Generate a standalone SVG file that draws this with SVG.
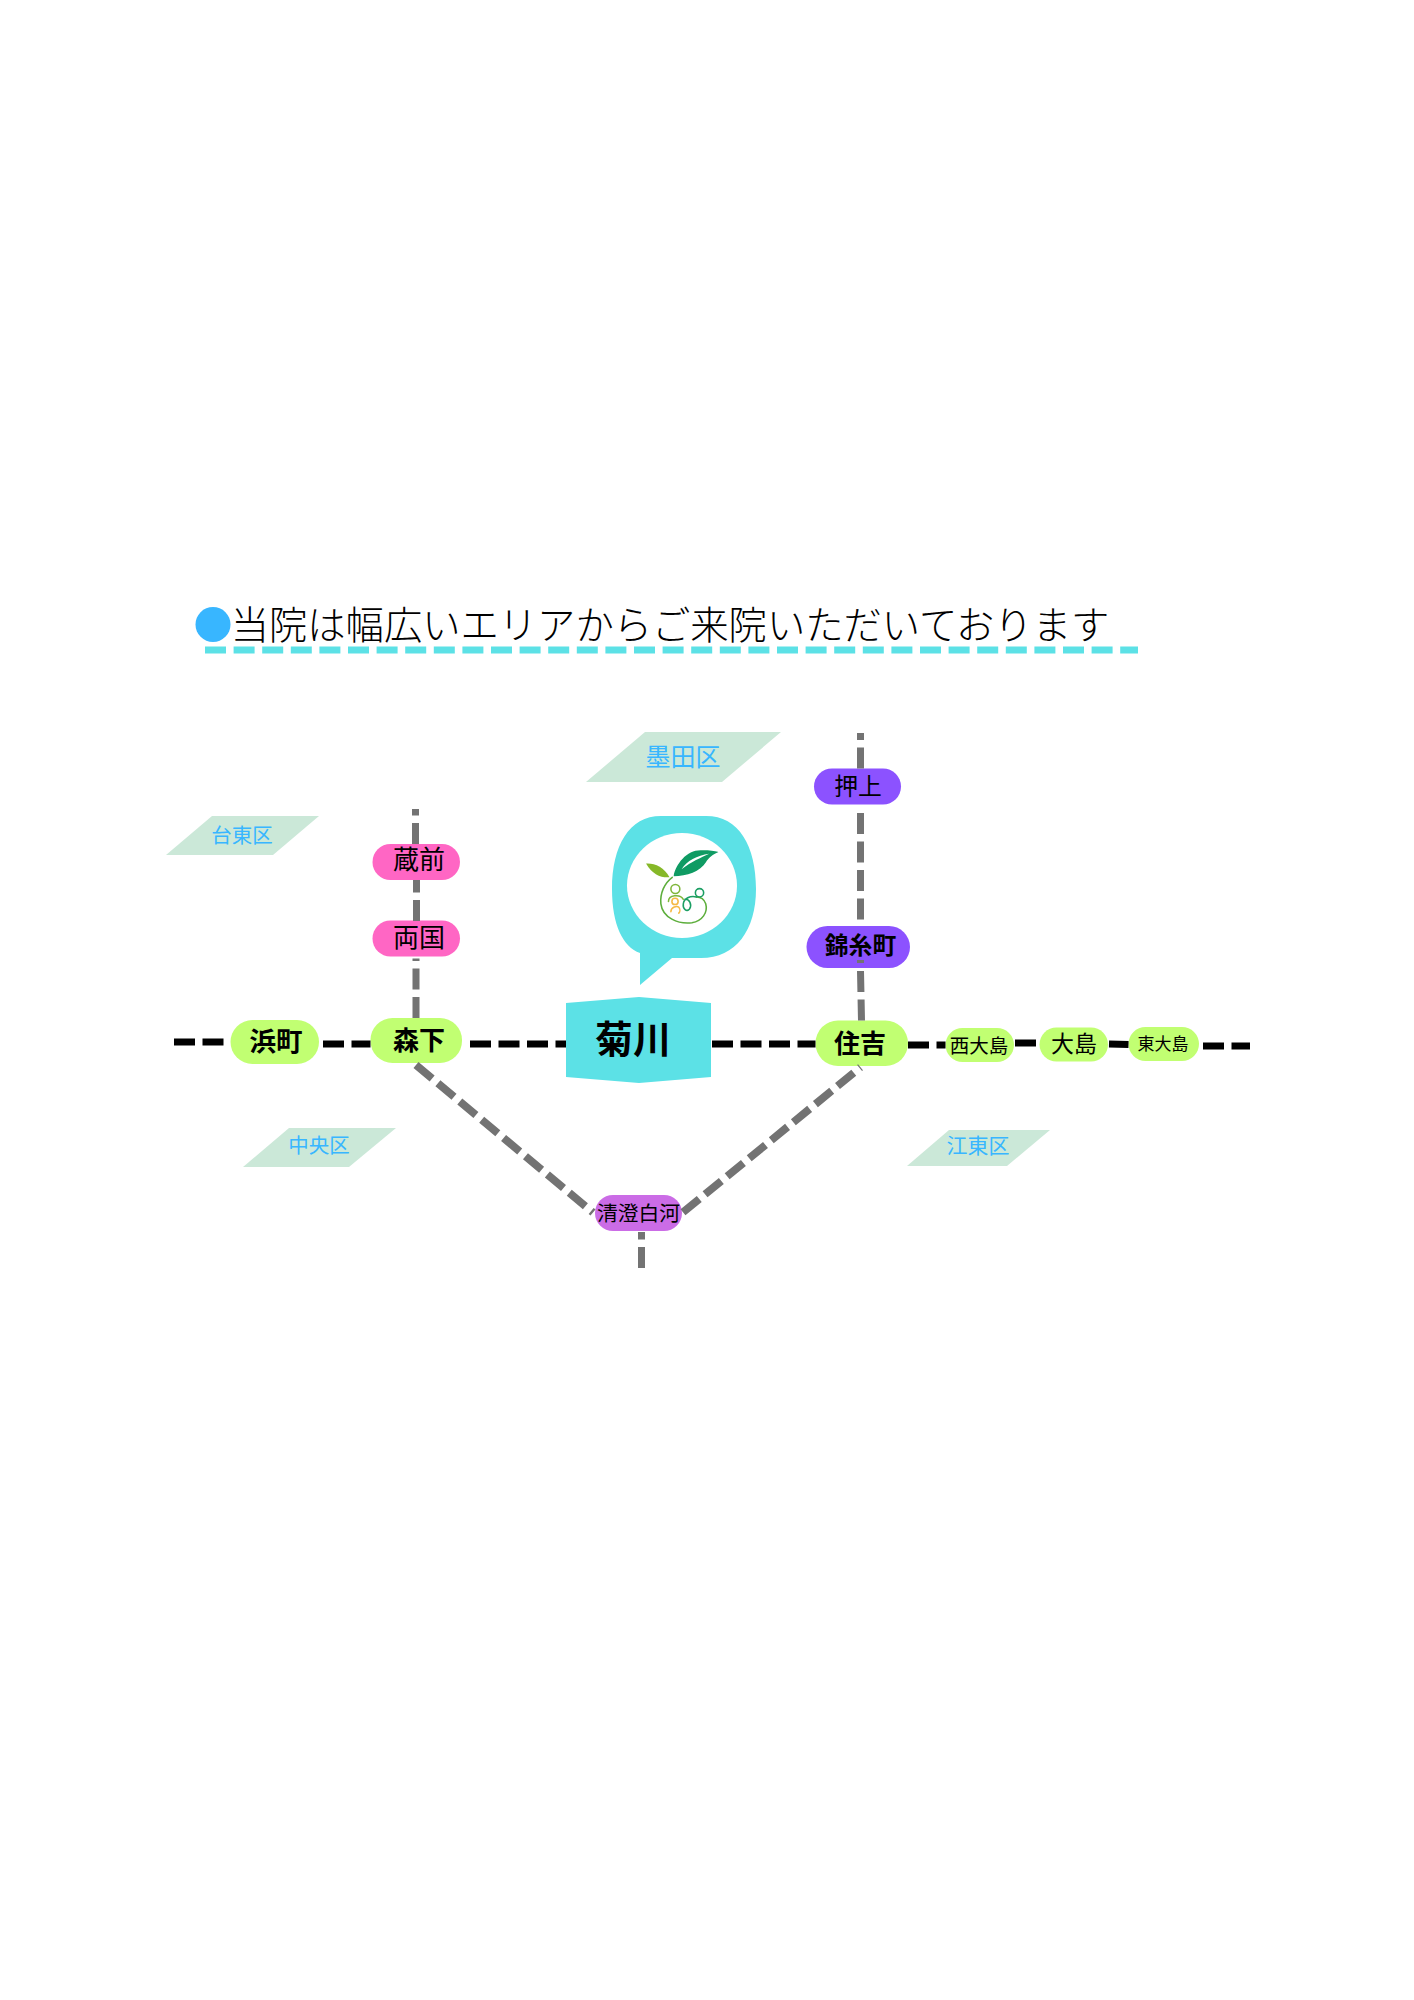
<svg xmlns="http://www.w3.org/2000/svg" width="1414" height="2000" viewBox="0 0 1414 2000">
<style>
text{font-family:"Noto Sans CJK JP","Noto Sans CJK SC",sans-serif;text-anchor:middle;fill:#000}
.b{font-weight:700}
.t{font-weight:300}
.w{fill:#38b6ff}
.area{fill:#cbe8d8}
.g{fill:#c1ff72}
.p{fill:#ff66c4}
.v{fill:#8c52ff}
.m{fill:#cb6ce6}
.k,.y{fill:none;stroke-width:7;stroke-dasharray:21 7.5}
.k{stroke:#000}
.y{stroke:#737373}
.d{stroke-width:7.800}
.l{fill:none;stroke-width:4.500;stroke-linecap:round}
</style>
<rect width="1414" height="2000" fill="#fff"/>
<g id="title">
<ellipse cx="213" cy="624.500" rx="17.500" ry="17.500" fill="#38b6ff"/>
<text class="t" x="670" y="638.500" font-size="38.300">当院は幅広いエリアからご来院いただいております</text>
<line x1="205" y1="650" x2="1138" y2="650" fill="none" stroke="#5ce1e6" stroke-width="7" stroke-dasharray="21 7.600"/>
</g>
<g id="area-sumida"><polygon class="area" points="645,732 781,732 722,782 586,782"/><text class="w" x="683" y="766" font-size="25">墨田区</text></g>
<g id="area-taito"><polygon class="area" points="212,816 319,816 273,855 166,855"/><text class="w" x="242" y="842.500" font-size="20.500">台東区</text></g>
<g id="area-chuo"><polygon class="area" points="289,1128 396,1128 349,1167 243,1167"/><text class="w" x="319" y="1153" font-size="20.500">中央区</text></g>
<g id="area-koto"><polygon class="area" points="949,1130 1050,1130 1007,1166 907,1166"/><text class="w" x="978" y="1153" font-size="21">江東区</text></g>
<g id="clinic-logo">
<path d="M661,816H706C739,816 756,846 756,889C756,930 736,958 701,958H672L640,985V953C623,947 612,925 612,889C612,846 629,816 661,816Z" fill="#5ce1e6"/>
<ellipse cx="682" cy="885.500" rx="55" ry="52.500" fill="#fff"/>
<g transform="translate(635,840) scale(.3450)">
<path d="M112,105C118,70 150,30 190,30C215,28 235,32 242,35C225,42 215,50 205,65C190,90 150,105 112,105Z" fill="#0f9b63"/>
<path d="M135,85C150,60 180,45 215,40C190,52 165,62 135,85Z" fill="#fff"/>
<path d="M32,68C55,66 85,78 100,108C75,110 50,100 32,68Z" fill="#86b828"/>
<path class="l" d="M108,108C85,125 72,155 75,185C80,225 125,245 165,240C195,235 212,210 205,185C200,170 190,165 178,165" stroke="#5dae3c"/>
<path class="l" d="M178,165C160,160 142,170 140,185C138,200 150,210 158,200C166,188 158,170 145,172" stroke="#1b9e63"/>
<circle class="l" cx="187" cy="153" r="12" stroke="#1b9e63"/>
<circle class="l" cx="117" cy="142" r="13" stroke="#7fb63a"/>
<path class="l" d="M97,178C97,160 130,155 140,172" stroke="#7fb63a"/>
<circle class="l" cx="116" cy="178" r="9" stroke="#f5b945"/>
<path class="l" d="M104,208C104,194 122,190 127,195C131,200 131,208 127,212" stroke="#f5b945"/>
</g>
</g>
<g id="st-kikukawa"><polygon points="566,1003 639,997 711,1003 711,1077 639,1083 566,1077" fill="#5ce1e6"/><text class="b" x="633" y="1053" font-size="38">菊川</text></g>
<g id="st-hamacho"><rect class="g" x="230.500" y="1020" width="88.500" height="44" rx="22"/><text class="b" x="276" y="1051" font-size="26.500">浜町</text></g>
<g id="st-morishita"><rect class="g" x="370.500" y="1018" width="91.500" height="45" rx="22"/><text class="b" x="419" y="1050" font-size="26">森下</text></g>
<g id="st-kuramae"><rect class="p" x="372.500" y="844" width="87.500" height="36" rx="18"/><text x="419" y="869" font-size="26">蔵前</text></g>
<g id="st-ryogoku"><rect class="p" x="372.500" y="920.500" width="87.500" height="36" rx="18"/><text x="419" y="946.500" font-size="26">両国</text></g>
<g id="st-oshiage"><rect class="v" x="814" y="768.500" width="87" height="36" rx="18"/><text x="858" y="795" font-size="23.800">押上</text></g>
<g id="st-kinshicho"><rect class="v" x="806.500" y="926" width="103.500" height="42" rx="21"/><text class="b" x="860.500" y="954" font-size="23.800">錦糸町</text></g>
<g id="st-sumiyoshi"><rect class="g" x="815.500" y="1020.500" width="92.500" height="45.500" rx="22.500"/><text class="b" x="860" y="1053" font-size="26">住吉</text></g>
<g id="st-nishiojima"><rect class="g" x="945.500" y="1028" width="68.500" height="34" rx="17"/><text x="979" y="1053" font-size="19.500">西大島</text></g>
<g id="st-ojima"><rect class="g" x="1039.500" y="1027.500" width="68.500" height="34" rx="17"/><text x="1074" y="1052" font-size="23">大島</text></g>
<g id="st-higashiojima"><rect class="g" x="1128.500" y="1027" width="70.500" height="34" rx="17"/><text x="1163" y="1050" font-size="17">東大島</text></g>
<g id="st-kiyosumi"><rect class="m" x="595" y="1195" width="87" height="36" rx="18"/><text x="638.500" y="1221" font-size="20.800">清澄白河</text></g>
<g id="connectors">
<line class="k" x1="174" y1="1042" x2="230.500" y2="1042"/>
<line class="k" x1="323" y1="1044" x2="370.500" y2="1044"/>
<line class="k" x1="470" y1="1044" x2="566" y2="1044"/>
<line class="k" x1="712" y1="1044" x2="815.500" y2="1044"/>
<line class="k" x1="908" y1="1045" x2="945.500" y2="1045"/>
<line class="k" x1="1015" y1="1043" x2="1039.500" y2="1043"/>
<line class="k" x1="1109" y1="1044" x2="1128.500" y2="1044.500"/>
<line class="k" x1="1203" y1="1046" x2="1250" y2="1046"/>
<line class="y" x1="415.500" y1="844" x2="415.500" y2="809"/>
<line class="y" x1="416.500" y1="921" x2="416.500" y2="880"/>
<line class="y" x1="416" y1="1018" x2="416" y2="958.500"/>
<line class="y" x1="860.500" y1="768.500" x2="860.500" y2="733"/>
<line class="y" x1="860.500" y1="813" x2="860.500" y2="926"/>
<line class="y" x1="860.500" y1="960" x2="860.500" y2="963"/>
<line class="y" x1="861.500" y1="1020.500" x2="860.500" y2="971"/>
<line class="y d" x1="416" y1="1065" x2="593" y2="1212.500"/>
<line class="y d" x1="683" y1="1212.300" x2="860.500" y2="1067.300"/>
<line class="y" x1="641.500" y1="1268" x2="641.500" y2="1232"/>
</g>
</svg>
